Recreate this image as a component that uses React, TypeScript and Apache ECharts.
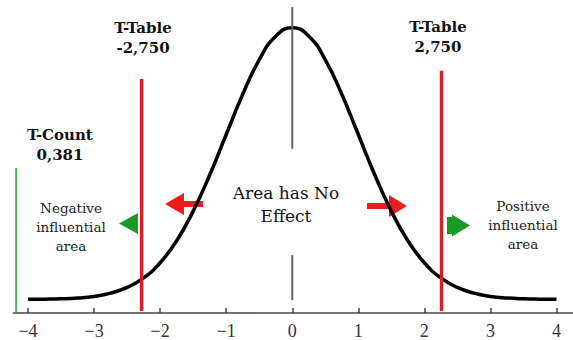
import React, { useEffect, useRef } from "react";
import * as echarts from "echarts";

// Normal curve (height as % of the peak)
const curveX = [-4, -3.75, -3.5, -3.25, -3, -2.75, -2.5, -2.25, -2, -1.75, -1.5, -1.25, -1, -0.75, -0.5, -0.25, 0,
  0.25, 0.5, 0.75, 1, 1.25, 1.5, 1.75, 2, 2.25, 2.5, 2.75, 3, 3.25, 3.5, 3.75, 4];
const curveY = [0.03, 0.09, 0.22, 0.51, 1.1, 2.3, 4.4, 7.9, 13.5, 21.6, 32.5, 45.8, 60.7, 75.5, 88.2, 96.9, 100,
  96.9, 88.2, 75.5, 60.7, 45.8, 32.5, 21.6, 13.5, 7.9, 4.4, 2.3, 1.1, 0.51, 0.22, 0.09, 0.03];

const tickValues = [-4, -3, -2, -1, 0, 1, 2, 3, 4];

// vertical markers: [x, yTop, yBottom]
const tCountLine = [-4.18, 48.4, -4.6];
const tTableLeftLine = [-2.28, 81.1, -4.3];
const tTableRightLine = [2.26, 84.2, -4.3];
const centerTop = [0, 107.6, 55.4];
const centerBottom = [0, 16.3, -0.3];

const tTableLeftLabel = ["T-Table", "-2,750"];
const tTableRightLabel = ["T-Table", "2,750"];
const tCountLabel = ["T-Count", "0,381"];
const negativeText = "Negative\ninfluential\narea";
const positiveText = "Positive\ninfluential\narea";
const middleText = "Area has No\nEffect";

const vline = (v: number[], color: string, width: number, z = 3) => ({
  type: "line",
  data: [[v[0], v[1]], [v[0], v[2]]],
  showSymbol: false,
  symbol: "none",
  lineStyle: { color, width },
  z,
  silent: true,
});

export default function App() {
  const ref = useRef<HTMLDivElement>(null);
  useEffect(() => {
    if (!ref.current) return;
    const chart = echarts.init(ref.current, null, { renderer: "svg" });
    const boldFont = 'bold 15px "DejaVu Serif"';
    const regFont = '13.5px "DejaVu Serif"';
    chart.setOption({
      animation: false,
      grid: { left: 13.5, right: 0, top: 6, bottom: 27 },
      xAxis: {
        type: "value",
        min: -4.22,
        max: 4.25,
        splitLine: { show: false },
        axisLine: { onZero: false, lineStyle: { color: "#444", width: 1.5 } },
        axisTick: { show: true, inside: true, length: 5, customValues: tickValues, lineStyle: { color: "#444", width: 1.5 } },
        axisLabel: {
          customValues: tickValues,
          formatter: (v: number) => (v < 0 ? "\u2212" + Math.abs(v) : String(v)),
          fontFamily: "Liberation Serif",
          fontSize: 18,
          color: "#333",
          margin: 9,
        },
      },
      yAxis: { type: "value", min: -5, max: 108, show: false },
      series: [
        {
          type: "line",
          data: curveX.map((x, i) => [x, curveY[i]]),
          smooth: true,
          showSymbol: false,
          symbol: "none",
          lineStyle: { color: "#000", width: 3.5 },
          z: 2,
          silent: true,
        },
        vline(centerTop, "#666", 2),
        vline(centerBottom, "#666", 2),
        vline(tCountLine, "#4cb04c", 2),
        vline(tTableLeftLine, "#d71f26", 3.5),
        vline(tTableRightLine, "#d71f26", 3.5),
      ],
      graphic: [
        { type: "text", x: 143, y: 28, style: { text: tTableLeftLabel[0], font: boldFont, fill: "#111", align: "center", verticalAlign: "middle" } },
        { type: "text", x: 143, y: 48, style: { text: tTableLeftLabel[1], font: boldFont, fill: "#111", align: "center", verticalAlign: "middle" } },
        { type: "text", x: 438, y: 27, style: { text: tTableRightLabel[0], font: boldFont, fill: "#111", align: "center", verticalAlign: "middle" } },
        { type: "text", x: 438, y: 47, style: { text: tTableRightLabel[1], font: boldFont, fill: "#111", align: "center", verticalAlign: "middle" } },
        { type: "text", x: 60, y: 135, style: { text: tCountLabel[0], font: boldFont, fill: "#111", align: "center", verticalAlign: "middle" } },
        { type: "text", x: 60, y: 155, style: { text: tCountLabel[1], font: boldFont, fill: "#111", align: "center", verticalAlign: "middle" } },
        { type: "text", x: 71, y: 227, style: { text: negativeText, font: regFont, lineHeight: 19, fill: "#222", align: "center", verticalAlign: "middle" } },
        { type: "text", x: 523, y: 225, style: { text: positiveText, font: regFont, lineHeight: 19, fill: "#222", align: "center", verticalAlign: "middle" } },
        { type: "text", x: 286, y: 204, style: { text: middleText, font: '17px "DejaVu Serif"', lineHeight: 23, fill: "#111", align: "center", verticalAlign: "middle" } },
        { type: "polygon", shape: { points: [[165, 204], [184, 193], [184, 201], [203, 201], [203, 207], [184, 207], [184, 215]] }, style: { fill: "#ee1c1c" } },
        { type: "polygon", shape: { points: [[367, 203], [389, 203], [389, 195], [407, 206], [389, 217], [389, 209], [367, 209]] }, style: { fill: "#ee1c1c" } },
        { type: "polygon", shape: { points: [[119, 223.5], [138, 213], [138, 234]] }, style: { fill: "#1a9a22" } },
        { type: "polygon", shape: { points: [[447, 217], [452, 217], [452, 214.5], [470, 225.5], [452, 236.5], [452, 234], [447, 234]] }, style: { fill: "#1a9a22" } },
      ],
    });
    return () => chart.dispose();
  }, []);
  return <div ref={ref} style={{ width: 573, height: 340, position: "absolute", left: 0, top: 0 }} />;
}
